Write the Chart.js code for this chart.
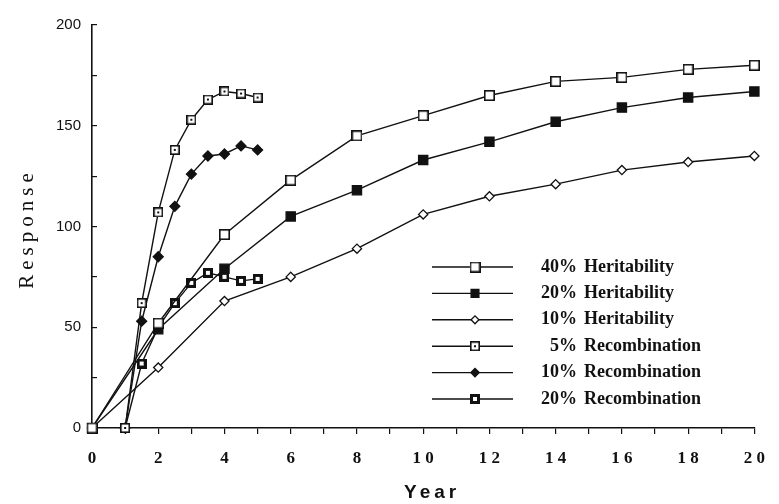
<!DOCTYPE html>
<html>
<head>
<meta charset="utf-8">
<script src="https://cdn.jsdelivr.net/npm/chart.js@4.4.1/dist/chart.umd.min.js"></script>
<style>
  html, body { margin: 0; padding: 0; background: #fff; }
</style>
</head>
<body>
<canvas id="responseChart" width="779" height="504"></canvas>
<script>
// data
const heritYears = [0, 2, 4, 6, 8, 10, 12, 14, 16, 18, 20]
const herit40 = [0, 52, 96, 123, 145, 155, 165, 172, 174, 178, 180]
const herit20 = [0, 49, 79, 105, 118, 133, 142, 152, 159, 164, 167]
const herit10 = [0, 30, 63, 75, 89, 106, 115, 121, 128, 132, 135]

const recombYears = [1, 1.5, 2, 2.5, 3, 3.5, 4, 4.5, 5]
const recomb5 = [0, 62, 107, 138, 153, 163, 167, 166, 164]
const recomb10 = [0, 53, 85, 110, 126, 135, 136, 140, 138]
const recomb20 = [0, 32, 50, 62, 72, 77, 75, 73, 74]

const seriesLabels = ['40% Heritability', '20% Heritability', '10% Heritability',
    '5% Recombination', '10% Recombination', '20% Recombination']

const xTickLabels = ['0', '2', '4', '6', '8', '1 0', '1 2', '1 4', '1 6', '1 8', '2 0']
const yTickLabels = ['0', '50', '100', '150', '200']

const INK = '#111'

function toPoints(xs, ys) {
    return xs.map((x, i) => ({x: x, y: ys[i]}))
}

// little square markers drawn into canvases
function squareMarker(size, border, dot) {
    const c = document.createElement('canvas')
    c.width = size
    c.height = size
    const g = c.getContext('2d')
    g.fillStyle = INK
    g.fillRect(0, 0, size, size)
    g.fillStyle = '#fff'
    g.fillRect(border, border, size - 2 * border, size - 2 * border)
    if (dot) {
        g.fillStyle = INK
        g.fillRect((size - dot) / 2, (size - dot) / 2, dot, dot)
    }
    return c
}

const openSquare = squareMarker(11, 1.6, 0)
const dotSquare = squareMarker(10, 1.6, 2)
const heavySquare = squareMarker(10, 3, 0)

function lineSet(label, data, style, radius, fill) {
    return {
        label: label,
        data: data,
        borderColor: INK,
        borderWidth: 1.4,
        pointStyle: style,
        pointRadius: radius,
        pointHoverRadius: radius,
        pointBackgroundColor: fill,
        pointBorderColor: INK,
        pointBorderWidth: 1.3,
        tension: 0,
        clip: false
    }
}

const datasets = [
    lineSet(seriesLabels[0], toPoints(heritYears, herit40), openSquare, 6, '#fff'),
    lineSet(seriesLabels[1], toPoints(heritYears, herit20), 'rect', 6.5, INK),
    lineSet(seriesLabels[2], toPoints(heritYears, herit10), 'rectRot', 4.6, '#fff'),
    lineSet(seriesLabels[3], toPoints(recombYears, recomb5), dotSquare, 5, '#fff'),
    lineSet(seriesLabels[4], toPoints(recombYears, recomb10), 'rectRot', 5, INK),
    lineSet(seriesLabels[5], toPoints(recombYears, recomb20), heavySquare, 5, INK)
]

// legend: short line with marker in the middle, label to the right
const lineLegend = {
    id: 'lineLegend',
    afterDraw(chart) {
        const ctx = chart.ctx
        const firstRow = 267
        const rowGap = 26.4
        chart.data.datasets.forEach((ds, i) => {
            const y = firstRow + i * rowGap
            ctx.save()
            ctx.strokeStyle = INK
            ctx.lineWidth = 1.4
            ctx.beginPath()
            ctx.moveTo(432, y)
            ctx.lineTo(513, y)
            ctx.stroke()

            ctx.fillStyle = ds.pointBackgroundColor
            ctx.strokeStyle = INK
            ctx.lineWidth = ds.pointBorderWidth
            Chart.helpers.drawPoint(ctx, {
                pointStyle: ds.pointStyle,
                radius: ds.pointRadius * 0.85,
                borderWidth: ds.pointBorderWidth,
                rotation: 0
            }, 475, y)

            const parts = ds.label.split(' ')
            ctx.fillStyle = INK
            ctx.font = 'bold 18px "Liberation Serif"'
            ctx.textBaseline = 'middle'
            ctx.textAlign = 'right'
            ctx.fillText(parts[0], 577, y)
            ctx.textAlign = 'left'
            ctx.fillText(parts.slice(1).join(' '), 584, y)
            ctx.restore()
        })
    }
}

// spaced-out axis titles
const axisTitles = {
    id: 'axisTitles',
    afterDraw(chart) {
        const ctx = chart.ctx
        const area = chart.chartArea
        ctx.save()
        ctx.fillStyle = INK
        ctx.textAlign = 'center'
        ctx.textBaseline = 'middle'

        ctx.letterSpacing = '4px'
        ctx.font = 'bold 19px "Liberation Sans"'
        ctx.fillText('Year', (area.left + area.right) / 2 + 9, 493)

        ctx.translate(27, (area.top + area.bottom) / 2 + 4)
        ctx.rotate(-Math.PI / 2)
        ctx.letterSpacing = '5px'
        ctx.font = '21px "Liberation Serif"'
        ctx.fillText('Response', 2, 0)
        ctx.restore()
    }
}

new Chart(document.getElementById('responseChart'), {
    type: 'line',
    data: {datasets: datasets},
    plugins: [lineLegend, axisTitles],
    options: {
        responsive: false,
        animation: false,
        events: [],
        layout: {padding: {left: 0, right: 12, top: 20, bottom: 0}},
        plugins: {
            legend: {display: false},
            tooltip: {enabled: false}
        },
        scales: {
            x: {
                type: 'linear',
                min: 0,
                max: 20,
                afterFit: scale => { scale.height = 76 },
                border: {display: true, color: INK, width: 1.6},
                grid: {drawOnChartArea: false, drawTicks: true, tickLength: 6, color: INK, lineWidth: 1.2},
                ticks: {
                    stepSize: 1,
                    autoSkip: false,
                    maxRotation: 0,
                    padding: 14,
                    color: INK,
                    font: {family: '"Liberation Serif"', size: 17, weight: 'bold'},
                    callback: v => v % 2 === 0 ? xTickLabels[v / 2] : ''
                }
            },
            y: {
                min: 0,
                max: 200,
                afterFit: scale => { scale.width = 92 },
                border: {display: true, color: INK, width: 1.6},
                grid: {drawOnChartArea: false, drawTicks: true, tickLength: -5, color: INK, lineWidth: 1.2},
                ticks: {
                    stepSize: 25,
                    autoSkip: false,
                    padding: 16,
                    color: INK,
                    font: {family: '"Liberation Sans"', size: 15},
                    callback: v => v % 50 === 0 ? yTickLabels[v / 50] : ''
                }
            }
        }
    }
})
</script>
</body>
</html>
